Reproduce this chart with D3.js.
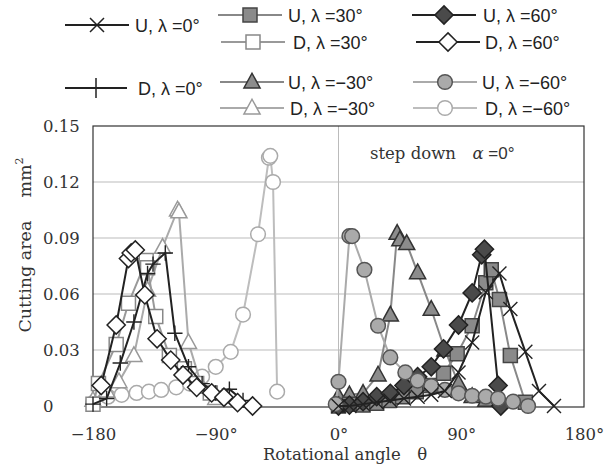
<!DOCTYPE html>
<html>
<head>
<meta charset="utf-8">
<script src="https://cdn.jsdelivr.net/npm/d3@7"></script>
<style>
body { margin: 0; background: #fff; }
</style>
</head>
<body>
<div id="chart"></div>
<script>
// [rotational angle (deg), cutting area (mm2)]
var u0 = [[0,0],[8,0],[18,0.001],[28,0.002],[38,0.003],[48,0.004],[58,0.005],[68,0.006],[78,0.008],[88,0.018],[98,0.034],[108,0.061],[118,0.071],[126,0.052],[137,0.029],[147,0.008],[158,0]];
var d0 = [[-180,0.001],[-170,0.004],[-160,0.023],[-150,0.045],[-140,0.071],[-136,0.076],[-127,0.082],[-120,0.039],[-110,0.021],[-100,0.012],[-90,0.007],[-80,0.009],[-70,0.003]];
var u30 = [[0,0],[8,0.001],[18,0.0005],[28,0.0015],[37,0.003],[47,0.005],[57,0.0077],[67,0.011],[77,0.0175],[87,0.028],[98,0.043],[108,0.066],[112,0.073],[118,0.057],[126,0.027],[137,0.002]];
var d30 = [[-180,0.001],[-176,0.012],[-163,0.033],[-154,0.055],[-141,0.078],[-140,0.074],[-134,0.048],[-124,0.027],[-113,0.020],[-104,0.012],[-94,0.007]];
var u60 = [[0,0],[8,0.0005],[18,0.0023],[28,0.005],[38,0.0068],[48,0.011],[58,0.0157],[68,0.021],[77,0.0306],[88,0.0434],[98,0.0606],[105,0.081],[107,0.084],[117,0.011],[119,0]];
var d60 = [[-174,0.011],[-163,0.0434],[-154,0.079],[-152,0.082],[-149,0.0836],[-142,0.0595],[-133,0.036],[-123,0.0246],[-114,0.0166],[-104,0.010],[-93,0.007],[-84,0.0047],[-74,0.0018],[-63,0]];
var um30 = [[0,0.005],[8,0.006],[18,0.0068],[29,0.0166],[38,0.0487],[43,0.0925],[45,0.089],[50,0.087],[58,0.0714],[68,0.0518],[78,0.030],[88,0.012],[98,0.005],[108,0.003]];
var dm30 = [[-180,0.003],[-170,0.008],[-161,0.013],[-150,0.027],[-140,0.062],[-129,0.085],[-118,0.105],[-117,0.104],[-110,0.034],[-100,0.010],[-90,0.004]];
var um60 = [[-2,0.001],[0,0.013],[8,0.091],[10,0.091],[19,0.073],[29,0.043],[38,0.026],[49,0.018],[58,0.0136],[68,0.0107],[78,0.0086],[88,0.0068],[98,0.0055],[108,0.005],[117,0.004],[128,0.0023],[139,0]];
var dm60 = [[-180,0.0015],[-169,0.005],[-159,0.006],[-148,0.007],[-139,0.0077],[-130,0.0086],[-119,0.010],[-109,0.012],[-100,0.0157],[-90,0.021],[-79,0.029],[-70,0.049],[-59,0.092],[-51,0.133],[-50,0.134],[-48,0.120],[-45,0.0077]];

var yTicks = [0, 0.03, 0.06, 0.09, 0.12, 0.15];
var yTickLabels = ["0", "0.03", "0.06", "0.09", "0.12", "0.15"];
var xTicks = [-180, -90, 0, 90, 180];
var xTickLabels = ["\u2212180", "\u221290\u00b0", "0\u00b0", "90\u00b0", "180\u00b0"];

// style of each series, in drawing order
var series = [
  {label: "D, \u03bb =\u221260\u00b0", data: dm60, shape: "circle", line: "#bdbdbd", fill: "#fff", stroke: "#aaa", lx: 413, ly: 108, tx: 485},
  {label: "D, \u03bb =\u221230\u00b0", data: dm30, shape: "triangle", line: "#aaa", fill: "#fff", stroke: "#999", lx: 220, ly: 108, tx: 290},
  {label: "D, \u03bb =30\u00b0", data: d30, shape: "square", line: "#999", fill: "#fff", stroke: "#888", lx: 221, ly: 42, tx: 293},
  {label: "D, \u03bb =0\u00b0", data: d0, shape: "plus", line: "#222", fill: "none", stroke: "#222", lx: 65, ly: 88, tx: 138, big: true},
  {label: "D, \u03bb =60\u00b0", data: d60, shape: "diamond", line: "#222", fill: "#fff", stroke: "#222", lx: 416, ly: 42, tx: 485},
  {label: "U, \u03bb =\u221230\u00b0", data: um30, shape: "triangle", line: "#888", fill: "#8c8c8c", stroke: "#333", lx: 220, ly: 82, tx: 288},
  {label: "U, \u03bb =30\u00b0", data: u30, shape: "square", line: "#888", fill: "#8a8a8a", stroke: "#444", lx: 218, ly: 15, tx: 288},
  {label: "U, \u03bb =60\u00b0", data: u60, shape: "diamond", line: "#222", fill: "#4a4a4a", stroke: "#222", lx: 412, ly: 15, tx: 483},
  {label: "U, \u03bb =\u221260\u00b0", data: um60, shape: "circle", line: "#aaa", fill: "#aaa", stroke: "#555", lx: 413, ly: 82, tx: 482},
  {label: "U, \u03bb =0\u00b0", data: u0, shape: "x", line: "#222", fill: "none", stroke: "#222", lx: 65, ly: 25, tx: 135}
];

var width = 613, height = 468;
var plotLeft = 93, plotRight = 584, plotTop = 126, plotBottom = 406;

var svg = d3.select("#chart").append("svg")
  .attr("width", width)
  .attr("height", height);

var x = d3.scaleLinear().domain([-180, 180]).range([plotLeft, plotRight]);
var y = d3.scaleLinear().domain([0, 0.15]).range([plotBottom, plotTop]);

function shape(type, r) {
  var p = d3.path();
  if (type == "square") {
    p.rect(-r, -r, 2 * r, 2 * r);
  } else if (type == "diamond") {
    var s = r * 1.3;
    p.moveTo(0, -s); p.lineTo(s, 0); p.lineTo(0, s); p.lineTo(-s, 0); p.closePath();
  } else if (type == "triangle") {
    p.moveTo(0, -r * 1.25); p.lineTo(r * 1.15, r * 0.85); p.lineTo(-r * 1.15, r * 0.85); p.closePath();
  } else if (type == "circle") {
    p.arc(0, 0, r * 1.05, 0, 2 * Math.PI);
  } else if (type == "x") {
    p.moveTo(-r, -r); p.lineTo(r, r); p.moveTo(r, -r); p.lineTo(-r, r);
  } else if (type == "plus") {
    p.moveTo(-r * 1.1, 0); p.lineTo(r * 1.1, 0); p.moveTo(0, -r * 1.1); p.lineTo(0, r * 1.1);
  }
  return p.toString();
}

// grid
var grid = svg.append("g");
grid.selectAll(".hgrid")
  .data(yTicks.slice(1, -1))
  .enter().append("line")
    .attr("x1", plotLeft).attr("x2", plotRight)
    .attr("y1", function(d) { return y(d); })
    .attr("y2", function(d) { return y(d); })
    .attr("stroke", "#bbb")
    .attr("stroke-width", 1);
grid.append("line")
  .attr("x1", x(0)).attr("x2", x(0))
  .attr("y1", plotTop).attr("y2", plotBottom)
  .attr("stroke", "#bbb")
  .attr("stroke-width", 1);

svg.append("rect")
  .attr("x", plotLeft).attr("y", plotTop)
  .attr("width", plotRight - plotLeft).attr("height", plotBottom - plotTop + 1)
  .attr("fill", "none")
  .attr("stroke", "#333")
  .attr("stroke-width", 1.2);

// axes (y labels are left aligned, as in the original)
var yAxis = svg.append("g")
  .attr("transform", "translate(" + plotLeft + ",0)")
  .call(d3.axisLeft(y).tickValues(yTicks)
    .tickFormat(function(d, i) { return yTickLabels[i]; })
    .tickSize(0).tickPadding(50));
yAxis.selectAll(".tick text").attr("text-anchor", "start");
svg.append("g")
  .attr("transform", "translate(0," + plotBottom + ")")
  .call(d3.axisBottom(x).tickValues(xTicks)
    .tickFormat(function(d, i) { return xTickLabels[i]; })
    .tickSize(0).tickPadding(22));
svg.selectAll(".domain").remove();
svg.selectAll(".tick text")
  .attr("font-family", "DejaVu Serif")
  .attr("font-size", 16.5)
  .attr("fill", "#333");

// series
var line = d3.line()
  .x(function(d) { return x(d[0]); })
  .y(function(d) { return y(d[1]); });

var plot = svg.append("g");
series.forEach(function(s) {
  var g = plot.append("g");
  g.append("path")
    .attr("d", line(s.data))
    .attr("fill", "none")
    .attr("stroke", s.line)
    .attr("stroke-width", 2);
  g.selectAll(".mk")
    .data(s.data)
    .enter().append("path")
      .attr("class", "mk")
      .attr("transform", function(d) { return "translate(" + x(d[0]) + "," + y(d[1]) + ")"; })
      .attr("d", shape(s.shape, 7))
      .attr("fill", s.fill)
      .attr("stroke", s.stroke)
      .attr("stroke-width", s.fill == "none" ? 1.4 : 1.5);
});

// legend
var legend = svg.append("g");
series.forEach(function(s) {
  var g = legend.append("g");
  var len = s.big ? 62 : 64;
  g.append("line")
    .attr("x1", s.lx).attr("x2", s.lx + len)
    .attr("y1", s.ly).attr("y2", s.ly)
    .attr("stroke", s.line)
    .attr("stroke-width", 2);
  g.append("path")
    .attr("transform", "translate(" + (s.lx + len / 2) + "," + s.ly + ")")
    .attr("d", shape(s.shape, s.big ? 9 : 7))
    .attr("fill", s.fill)
    .attr("stroke", s.stroke)
    .attr("stroke-width", 1.5);
  g.append("text")
    .attr("x", s.tx).attr("y", s.ly + 7)
    .attr("font-family", "Liberation Sans")
    .attr("font-size", 18)
    .attr("fill", "#222")
    .text(s.label);
});

// titles
svg.append("text")
  .attr("transform", "translate(31,245) rotate(-90)")
  .attr("text-anchor", "middle")
  .attr("font-family", "DejaVu Serif")
  .attr("font-size", 17.5)
  .attr("fill", "#333")
  .html("Cutting area\u2003 mm<tspan dy='-8' font-size='11'>2</tspan>");

svg.append("text")
  .attr("x", 345).attr("y", 460)
  .attr("text-anchor", "middle")
  .attr("font-family", "DejaVu Serif")
  .attr("font-size", 16.5)
  .attr("fill", "#333")
  .text("Rotational angle\u2003\u03b8");

var note = svg.append("text")
  .attr("x", 370).attr("y", 159)
  .attr("font-family", "DejaVu Serif")
  .attr("font-size", 16.5)
  .attr("fill", "#333");
note.append("tspan").text("step down\u2003");
note.append("tspan").attr("font-style", "italic").text("\u03b1");
note.append("tspan").attr("font-family", "Liberation Sans").attr("font-size", 17).text(" =0\u00b0");
</script>
</body>
</html>
